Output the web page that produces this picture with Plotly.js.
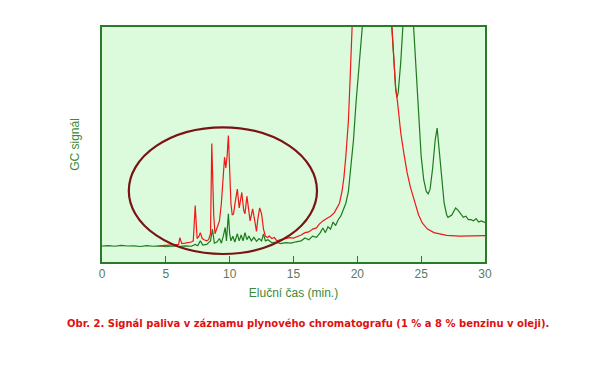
<!DOCTYPE html>
<html><head><meta charset="utf-8">
<script src="https://cdn.plot.ly/plotly-3.0.1.min.js"></script>
<style>body{margin:0;background:#fff}#c{width:614px;height:366px}</style>
</head><body><div id="c"></div>
<script>
var greenX = [0,0.5,1,1.5,2,2.5,3,3.5,4,4.5,5,5.5,6,6.5,7,7.3,7.5,7.7,7.9,8.2,8.5,8.65,8.8,9.0,9.2,9.35,9.5,9.65,9.75,9.9,10.0,10.1,10.25,10.4,10.6,10.75,10.9,11.05,11.2,11.35,11.5,11.7,11.9,12.1,12.3,12.5,12.65,12.8,13,13.3,13.6,14,14.4,14.8,15.2,15.6,15.9,16.2,16.5,16.8,17.1,17.3,17.5,17.7,17.9,18.1,18.3,18.5,18.7,18.9,19.1,19.3,19.5,19.7,19.9,20.1,20.3,20.5,21,22,22.6,22.7,22.85,23.0,23.1,23.2,23.4,23.6,23.7,24,24.3,24.4,24.6,24.8,25.0,25.2,25.4,25.55,25.7,25.9,26.1,26.25,26.4,26.6,26.8,27.0,27.1,27.4,27.7,27.9,28.1,28.3,28.5,28.7,28.9,29.1,29.3,29.5,29.7,30];
var greenY = [6.8,7.0,6.7,7.1,6.8,6.9,6.6,7.0,6.7,6.9,6.5,6.8,6.6,6.9,6.7,7.5,6.9,9.0,7.2,7.5,9,14,8,8.5,10,8,11,14.7,9,20.5,12,9,11,8.5,12,9,11.5,9,12.5,9.5,11,9,10.5,8.8,10,9,12,9,9.5,8.2,8.5,7.8,8.2,8.0,8.6,9.0,10.2,9.5,11,10.5,12.5,14.5,12.5,15,14,17,15.5,18,19.5,22,25,30,40,52,68,82,100,115,140,140,110,100,85,74,70,72,85,98,110,140,110,100,80,60,45,35,30,29,31,40,52,57,48,35,25,20,19,20,23,22,20.5,19,19.5,18,18,17.5,18.5,17,17.5,16.8];
var redX = [4.5,5,5.5,6,6.1,6.25,6.5,6.8,7.0,7.15,7.3,7.45,7.6,7.7,7.85,8.0,8.2,8.35,8.5,8.6,8.75,8.85,9.0,9.2,9.35,9.5,9.6,9.7,9.8,9.9,10.0,10.1,10.2,10.3,10.45,10.6,10.75,10.85,10.95,11.1,11.2,11.35,11.5,11.6,11.7,11.8,11.95,12.1,12.2,12.35,12.5,12.65,12.8,12.95,13.1,13.3,13.5,13.7,14.0,14.3,14.7,15.0,15.3,15.6,15.9,16.2,16.5,16.8,17.0,17.3,17.6,17.9,18.2,18.4,18.6,18.8,18.95,19.1,19.3,19.45,19.6,19.8,20.5,22,22.6,22.7,22.85,23.0,23.15,23.4,23.65,23.9,24.15,24.5,24.8,25.1,25.5,26.0,26.5,27,28,29,30];
var redY = [6.9,7.0,7.2,7.5,10.4,7.8,8,8.2,8.5,9,24,10,11,12.5,10,9.5,9,9.5,12,50.4,20,12,14,17.5,25,38,44.6,40,45,53.8,35,24.8,20,20.5,26,31,23,27,29.6,22,20.5,28,22,17.5,20,22.6,18,13,18,23,20.5,14,11,10.4,11,10,10.4,9,9.5,10,10.4,10.2,10.8,11.5,12.5,12.8,14,14.5,16,17.5,18.5,19.5,21,23,25,30,36,45,60,80,100,130,160,150,110,100,85,74,68,55,46,38,32,25,20,16.5,14,12.5,11.8,11.3,11,11,11.2];
var xTicks = [0,5,10,15,20,25,30];
var captionText = "Obr. 2. Signál paliva v záznamu plynového chromatografu (1 % a 8 % benzinu v oleji).";
var xTitle = "Eluční čas (min.)";
var yTitle = "GC signál";

var traces = [
  {x: greenX, y: greenY, type: 'scatter', mode: 'lines', line: {color: '#1e7a1e', width: 1.2}, hoverinfo: 'skip'},
  {x: redX, y: redY, type: 'scatter', mode: 'lines', line: {color: '#f01818', width: 1.2}, hoverinfo: 'skip'}
];
var frame = '#2a7a2a';
var layout = {
  width: 614, height: 366,
  margin: {l: 102, r: 129, t: 27, b: 104},
  paper_bgcolor: '#ffffff', plot_bgcolor: '#dcfadc',
  showlegend: false,
  font: {family: 'Liberation Sans, Arial, sans-serif'},
  xaxis: {range: [0, 30], tickvals: xTicks, ticktext: xTicks.map(String), ticks: 'inside', ticklen: 6, tickwidth: 1, tickcolor: frame,
          showline: true, linecolor: frame, linewidth: 2, mirror: true, showgrid: false, zeroline: false,
          tickfont: {size: 12, color: '#5c7a5c'},
          title: {text: xTitle, font: {size: 12, color: '#3a8a3a'}, standoff: 8}},
  yaxis: {range: [0, 100], showticklabels: false, ticks: '', showline: true, linecolor: frame, linewidth: 2, mirror: true,
          showgrid: false, zeroline: false,
          title: {text: yTitle, font: {size: 12, color: '#3a8a3a'}, standoff: 18}},
  shapes: [{type: 'circle', xref: 'x', yref: 'y', x0: 2.1, x1: 16.84, y0: 3.4, y1: 57.3, line: {color: '#7a1414', width: 2.2}}],
  annotations: [{text: '<b>' + captionText + '</b>', xref: 'paper', yref: 'paper', x: 0.538, y: -0.26, xanchor: 'center', yanchor: 'middle',
                 showarrow: false, font: {size: 10, color: '#e01010', family: 'DejaVu Sans, Verdana, sans-serif'}}]
};
Plotly.newPlot('c', traces, layout, {displayModeBar: false, staticPlot: true});
</script></body></html>
